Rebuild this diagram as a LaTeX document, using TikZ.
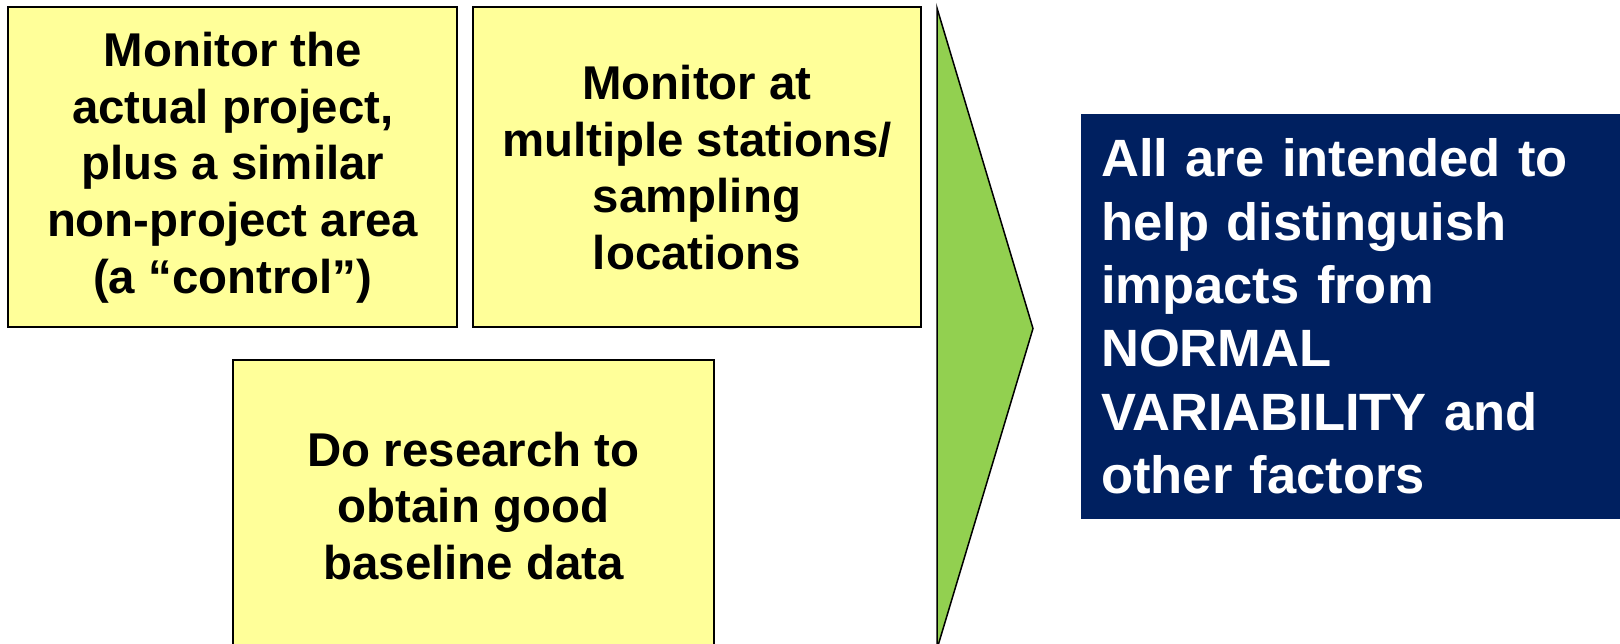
\documentclass[tikz,border=0pt]{standalone}
\usepackage{fontspec}
\setmainfont{Liberation Sans}
\definecolor{ybox}{HTML}{FFFF99}
\definecolor{garrow}{HTML}{92D050}
\definecolor{navy}{HTML}{002060}
\tikzset{
  yellowbox/.style={draw=black, line width=2pt, fill=ybox, align=center, inner sep=0pt,
    font=\bfseries\fontsize{47.4}{56.7}\selectfont},
  bluebox/.style={fill=navy, text=white, align=left, inner xsep=20pt, inner ysep=0pt,
    font=\bfseries\fontsize{52.5}{63.4}\selectfont},
}
\begin{document}
\begin{tikzpicture}[x=1pt,y=-1pt]
\useasboundingbox (0,0) rectangle (1620,644);
\node[yellowbox, minimum width=449pt, minimum height=320pt] (b1) at (232.7,167.5)
  {Monitor the\\actual project,\\plus a similar\\non-project area\\(a “control”)};
\node[yellowbox, minimum width=448pt, minimum height=320pt] (b2) at (697,167.5)
  {Monitor at\\multiple stations/\\sampling\\locations};
\node[yellowbox, minimum width=481pt, minimum height=292pt] (b3) at (473.5,506)
  {Do research to\\obtain good\\baseline data};
\draw[line width=1.5pt, fill=garrow, line join=miter] (937,8) -- (1033,328.5) -- (937,649) -- cycle;
\node[bluebox, anchor=west, minimum height=405pt, text width=520pt] (res) at (1081,316.5)
  {All are intended to\\help distinguish\\impacts from\\NORMAL\\VARIABILITY and\\other factors};
\end{tikzpicture}
\end{document}
